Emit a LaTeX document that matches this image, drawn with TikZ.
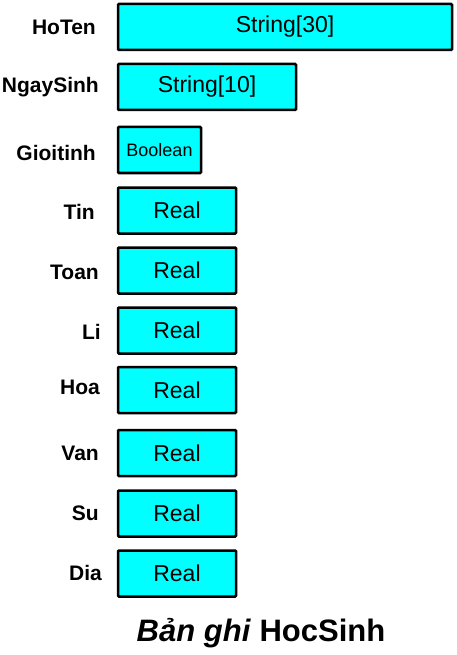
\documentclass[tikz,border=0pt]{standalone}
\usepackage{fontspec}
\setmainfont{Liberation Sans}
\usetikzlibrary{positioning}
\definecolor{fieldcyan}{RGB}{0,255,255}
\tikzset{
  fieldbox/.style={draw=black, fill=fieldcyan, line width=2.5pt, rounded corners=1pt,
    minimum height=46pt, inner sep=0pt, font=\fontsize{23}{23}\selectfont},
  fieldname/.style={anchor=east, inner sep=0pt, font=\bfseries\fontsize{21}{21}\selectfont},
}
\begin{document}
\begin{tikzpicture}[x=1pt,y=-1pt]
  \useasboundingbox (0,0) rectangle (457,655);

  % the fields of the record
  \node[fieldbox, minimum width=334pt] (hoten) at (285,27) {String[30]};
  \node[fieldbox, minimum width=178pt] (ngaysinh) at (207,87) {String[10]};
  \node[fieldbox, minimum width=83pt, font=\fontsize{18}{18}\selectfont] (gioitinh) at (159.5,150) {Boolean};
  \node[fieldbox, minimum width=118pt] (tin) at (177,210.5) {Real};
  \node[fieldbox, minimum width=118pt] (toan) at (177,270.5) {Real};
  \node[fieldbox, minimum width=118pt] (li) at (177,330.5) {Real};
  \node[fieldbox, minimum width=118pt] (hoa) at (177,390) {Real};
  \node[fieldbox, minimum width=118pt] (van) at (177,453) {Real};
  \node[fieldbox, minimum width=118pt] (su) at (177,513.5) {Real};
  \node[fieldbox, minimum width=118pt] (dia) at (177,573.5) {Real};

  % their names
  \node[fieldname] (nhoten) at (96,27) {HoTen};
  \node[fieldname] (nngaysinh) at (99,87) {NgaySinh};
  \node[fieldname] (ngioitinh) at (96,153) {Gioitinh};
  \node[fieldname] (ntin) at (95,212) {Tin};
  \node[fieldname] (ntoan) at (99,272) {Toan};
  \node[fieldname] (nli) at (101,332) {Li};
  \node[fieldname] (nhoa) at (100,387) {Hoa};
  \node[fieldname] (nvan) at (99,453) {Van};
  \node[fieldname] (nsu) at (99,513) {Su};
  \node[fieldname] (ndia) at (102,573) {Dia};

  \node[font=\bfseries\fontsize{31}{31}\selectfont, anchor=base] (title) at (261,641)
    {\textit{Bản ghi} HocSinh};
\end{tikzpicture}
\end{document}
